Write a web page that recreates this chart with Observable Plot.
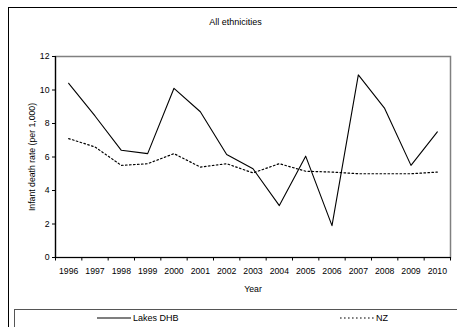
<!DOCTYPE html>
<html>
<head>
<meta charset="utf-8">
<script src="https://cdn.jsdelivr.net/npm/d3@7"></script>
<script src="https://cdn.jsdelivr.net/npm/@observablehq/plot@0.6"></script>
<style>
  html, body { margin: 0; padding: 0; background: #fff; }
  #wrap { position: relative; width: 457px; height: 327px; overflow: hidden; font-family: "Liberation Sans", Arial, sans-serif; }
  #outer { position: absolute; left: 8px; top: 7px; width: 470px; height: 340px; border: 1.5px solid #000; box-sizing: border-box; }
  #title { position: absolute; left: 8px; width: 455px; top: 17px; text-align: center; font-size: 9px; color: #000; }
  #chart { position: absolute; left: 0; top: 0; }
  #legend { position: absolute; left: 14px; top: 309px; width: 470px; height: 30px; border: 1px solid #555; box-sizing: border-box; font-size: 9px; }
  .li { position: absolute; top: 3px; display: flex; align-items: center; }
  .li svg { margin-right: 2px; }
</style>
</head>
<body>
<div id="wrap">
  <div id="outer"></div>
  <div id="title">All ethnicities</div>
  <div id="chart"></div>
  <div id="legend"></div>
</div>
<script>
const years = [1996, 1997, 1998, 1999, 2000, 2001, 2002, 2003, 2004, 2005, 2006, 2007, 2008, 2009, 2010];
const lakesDHB = [10.4, 8.45, 6.4, 6.2, 10.1, 8.7, 6.15, 5.3, 3.1, 6.05, 1.9, 10.9, 8.9, 5.5, 7.5];
const nz = [7.1, 6.6, 5.5, 5.6, 6.2, 5.4, 5.6, 5.05, 5.6, 5.15, 5.1, 5.0, 5.0, 5.0, 5.1];
const seriesNames = ["Lakes DHB", "NZ"];
const yTicks = [0, 2, 4, 6, 8, 10, 12];

const rows = [];
years.forEach((y, i) => {
  rows.push({year: y, value: lakesDHB[i], series: seriesNames[0]});
  rows.push({year: y, value: nz[i], series: seriesNames[1]});
});
const boundaries = years.map(y => y - 0.5).concat([years[years.length - 1] + 0.5]);

const chart = Plot.plot({
  width: 457,
  height: 327,
  marginLeft: 55,
  marginRight: 7,
  marginTop: 56,
  marginBottom: 70,
  style: { fontFamily: "Liberation Sans, Arial, sans-serif", fontSize: "8.7px", color: "#000", background: "transparent" },
  x: { domain: [years[0] - 0.5, years[years.length - 1] + 0.5] },
  y: { domain: [0, 12] },
  marks: [
    Plot.frame({ stroke: "#808080", strokeWidth: 1.5 }),
    Plot.axisY(yTicks, { tickSize: 3, tickPadding: 3, label: "Infant death rate (per 1,000)", labelAnchor: "center", labelArrow: "none", labelOffset: 27, fontSize: 8.7 }),
    Plot.axisX(years, { tickSize: 0, tickPadding: 10, tickFormat: d => String(d), label: "Year", labelAnchor: "center", labelArrow: "none", labelOffset: 34, fontSize: 8.7 }),
    Plot.axisX(boundaries, { tickSize: 3.5, tickFormat: () => "", label: null, stroke: "#000" }),
    Plot.ruleY([0], { stroke: "#000", strokeWidth: 1.2 }),
    Plot.ruleX([years[0] - 0.5], { stroke: "#000", strokeWidth: 1.2 }),
    Plot.line(rows.filter(d => d.series === seriesNames[1]), { x: "year", y: "value", stroke: "#000", strokeWidth: 1.2, strokeDasharray: "1.6,2.4" }),
    Plot.line(rows.filter(d => d.series === seriesNames[0]), { x: "year", y: "value", stroke: "#000", strokeWidth: 1.1 })
  ]
});
document.getElementById("chart").appendChild(chart);

// legend
const legend = document.getElementById("legend");
const legendItems = [
  { name: seriesNames[0], dash: null, left: 82 },
  { name: seriesNames[1], dash: "1.6,2.4", left: 325 }
];
legendItems.forEach(it => {
  const d = document.createElement("div");
  d.className = "li";
  d.style.left = it.left + "px";
  d.innerHTML = `<svg width="34" height="8"><line x1="0" y1="4" x2="34" y2="4" stroke="#000" stroke-width="1.2" ${it.dash ? `stroke-dasharray="${it.dash}"` : ""}/></svg><span>${it.name}</span>`;
  legend.appendChild(d);
});
</script>
</body>
</html>
